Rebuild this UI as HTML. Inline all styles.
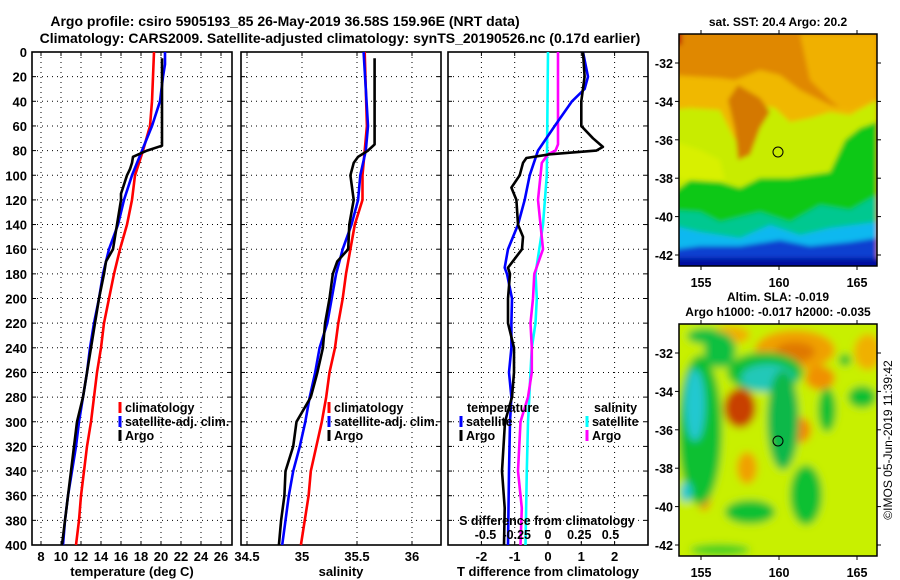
<!DOCTYPE html>
<html><head><meta charset="utf-8">
<style>
html,body{margin:0;padding:0;background:#fff;}
svg{display:block;font-family:"Liberation Sans",sans-serif;font-weight:bold;}
</style></head>
<body>
<svg id="fig" width="900" height="580" viewBox="0 0 900 580" xmlns="http://www.w3.org/2000/svg">
<defs>
<filter id="blur3" x="-20%" y="-20%" width="140%" height="140%"><feGaussianBlur stdDeviation="2.5"/></filter>
<filter id="blur6" x="-30%" y="-30%" width="160%" height="160%"><feGaussianBlur stdDeviation="4"/></filter>
<clipPath id="clipTop"><rect x="679" y="34" width="198" height="232"/></clipPath>
<clipPath id="clipBot"><rect x="679" y="324" width="198" height="232"/></clipPath>
</defs>
<text x="285" y="26" font-size="14" text-anchor="middle">Argo profile: csiro 5905193_85 26-May-2019 36.58S 159.96E (NRT data)</text>
<text x="340" y="43" font-size="14" text-anchor="middle">Climatology: CARS2009. Satellite-adjusted climatology: synTS_20190526.nc (0.17d earlier)</text>
<g id="plots"></g>

<!-- Top map: SST -->
<g>
<text x="778" y="26" font-size="12" text-anchor="middle">sat. SST: 20.4 Argo: 20.2</text>
<g clip-path="url(#clipTop)" filter="url(#blur3)">
<rect x="670" y="25" width="220" height="250" fill="#e08800"/>
<rect x="670" y="25" width="12" height="20" fill="#c02000"/>
<polygon points="800,34 877,34 877,100 850,115 830,100 810,80" fill="#f0b000"/>
<polygon points="670,75 720,78 735,80 760,70 780,75 800,90 830,105 850,110 877,100 877,275 670,275" fill="#f0b800"/>
<polygon points="670,110 690,108 720,110 735,140 748,125 755,112 760,105 775,108 790,122 810,118 830,112 850,115 877,100 877,275 670,275" fill="#c8ec00"/>
<polygon points="738,85 760,98 770,112 760,128 750,155 738,160 735,130 728,100" fill="#d47800"/>
<polygon points="670,140 700,150 720,160 725,180 700,185 670,175" fill="#d8f000"/>
<polygon points="670,195 690,180 720,182 740,188 760,178 790,178 810,175 830,172 845,140 860,128 877,122 877,275 670,275" fill="#10c818"/>
<polygon points="670,210 700,212 720,222 760,212 790,222 820,205 850,210 877,195 877,275 670,275" fill="#00c890"/>
<polygon points="670,225 700,232 740,238 770,225 800,235 830,228 877,222 877,275 670,275" fill="#10b8f0"/>
<polygon points="670,250 700,246 740,246 780,240 810,246 850,242 877,238 877,275 670,275" fill="#0840d0"/>
<rect x="670" y="258" width="220" height="20" fill="#0010a0"/>
</g>
<rect x="679" y="34" width="198" height="232" fill="none" stroke="#000" stroke-width="1.5"/>
<circle cx="778" cy="152" r="5" fill="none" stroke="#000" stroke-width="1"/>
<g id="mapTopAxes"></g>
</g>

<!-- Bottom map: SLA -->
<g>
<text x="778" y="301" font-size="12" text-anchor="middle">Altim. SLA: -0.019</text>
<text x="778" y="316" font-size="12" text-anchor="middle">Argo h1000: -0.017 h2000: -0.035</text>
<g clip-path="url(#clipBot)" filter="url(#blur6)">
<rect x="670" y="315" width="220" height="250" fill="#c8f000"/>
<ellipse cx="795" cy="350" rx="40" ry="20" fill="#f0a000"/>
<ellipse cx="795" cy="352" rx="20" ry="10" fill="#e07800"/>
<ellipse cx="820" cy="378" rx="15" ry="12" fill="#f09000"/>
<ellipse cx="868" cy="352" rx="14" ry="18" fill="#f0b000"/>
<ellipse cx="730" cy="335" rx="20" ry="9" fill="#f0b000"/>
<ellipse cx="740" cy="408" rx="16" ry="20" fill="#c84000"/>
<ellipse cx="800" cy="430" rx="11" ry="13" fill="#f08800"/>
<ellipse cx="747" cy="468" rx="10" ry="16" fill="#f0a000"/>
<ellipse cx="704" cy="495" rx="7" ry="16" fill="#f09000"/>
<ellipse cx="700" cy="430" rx="22" ry="75" fill="#10c030"/>
<ellipse cx="695" cy="405" rx="10" ry="36" fill="#20c8d0"/>
<ellipse cx="686" cy="492" rx="6" ry="10" fill="#20c8d0"/>
<ellipse cx="765" cy="372" rx="38" ry="20" fill="#10c030"/>
<ellipse cx="768" cy="378" rx="27" ry="14" fill="#20c8b8"/>
<ellipse cx="783" cy="420" rx="16" ry="50" fill="#10b848"/>
<ellipse cx="720" cy="350" rx="16" ry="18" fill="#10c040"/>
<ellipse cx="705" cy="336" rx="18" ry="8" fill="#10c040"/>
<ellipse cx="750" cy="512" rx="25" ry="12" fill="#10c030"/>
<ellipse cx="806" cy="495" rx="16" ry="30" fill="#10c030"/>
<ellipse cx="862" cy="397" rx="14" ry="11" fill="#10c030"/>
<ellipse cx="827" cy="410" rx="9" ry="22" fill="#10c030"/>
<ellipse cx="845" cy="360" rx="6" ry="6" fill="#10c030"/>
<ellipse cx="720" cy="550" rx="30" ry="6" fill="#40d020"/>
</g>
<rect x="679" y="324" width="198" height="232" fill="none" stroke="#000" stroke-width="1.5"/>
<circle cx="778" cy="441" r="5" fill="none" stroke="#000" stroke-width="1"/>
<g id="mapBotAxes"></g>
</g>
<text transform="translate(892,440) rotate(-90)" font-size="12" font-weight="normal" text-anchor="middle">©IMOS 05-Jun-2019 11:39:42</text>
</svg>
<script>
// ---- Temperature profiles (deg C) ----
const tClimDepth = [0,20,40,60,80,100,120,140,160,180,200,220,240,260,280,300,320,340,360,380,400];
const tClimVal   = [19.3,19.2,19.1,18.9,18.2,17.4,17.1,16.6,15.9,15.3,14.8,14.3,14.0,13.6,13.3,13.0,12.6,12.3,12.0,11.8,11.5];
const tSatDepth  = [0,10,20,40,60,80,100,120,140,160,180,200,220,240,260,280,300,320,340,360,380,400];
const tSatVal    = [20.4,20.4,20.2,19.9,19.1,18.1,17.1,16.3,15.7,14.8,14.2,13.8,13.3,12.9,12.6,12.2,11.8,11.5,11.1,10.7,10.4,10.2];
const tArgoDepth = [5,76,80,85,90,95,100,110,115,120,140,160,170,180,200,220,240,260,280,300,320,340,360,380,400];
const tArgoVal   = [20.1,20.1,18.6,17.2,17.1,16.9,16.6,16.2,16.0,16.0,15.6,15.2,14.5,14.3,13.8,13.4,13.0,12.6,12.2,11.6,11.3,11.0,10.7,10.4,10.1];
// ---- Salinity profiles ----
const sClimDepth = [0,60,80,100,120,140,160,180,200,220,240,260,280,300,340,360,400];
const sClimVal   = [35.57,35.59,35.57,35.55,35.55,35.48,35.44,35.40,35.37,35.33,35.30,35.25,35.22,35.18,35.08,35.06,34.99];
const sSatDepth  = [0,60,80,100,120,140,160,180,200,220,240,260,280,300,320,340,360,380,400];
const sSatVal    = [35.56,35.60,35.58,35.53,35.51,35.45,35.37,35.31,35.27,35.23,35.16,35.12,35.07,35.03,34.98,34.92,34.88,34.85,34.82];
const sArgoDepth = [5,75,80,85,90,100,120,140,160,170,180,200,220,240,260,280,300,320,340,360,380,400];
const sArgoVal   = [35.66,35.66,35.60,35.51,35.47,35.44,35.47,35.43,35.42,35.32,35.28,35.25,35.21,35.19,35.14,35.08,34.95,34.92,34.85,34.84,34.81,34.79];
// ---- Differences from climatology ----
const dTSatDepth = [0,20,30,40,60,80,100,120,140,160,175,180,200,220,240,260,280,300,340,400];
const dTSatVal   = [1.05,1.2,1.1,0.72,0.2,-0.3,-0.55,-0.7,-0.9,-1.2,-1.3,-1.23,-1.08,-1.1,-1.1,-1.17,-1.1,-1.14,-1.17,-1.2];
const dTArgoDepth= [0,20,40,60,70,77,80,83,86,90,100,110,120,140,150,160,175,180,200,220,240,260,280,300,340,370,400];
const dTArgoVal  = [1.05,1.1,1.0,1.0,1.35,1.65,1.45,0.05,-0.65,-0.75,-0.85,-1.1,-0.95,-0.9,-0.75,-0.78,-1.2,-1.14,-1.2,-1.2,-1.02,-1.02,-1.08,-1.29,-1.38,-1.3,-1.32];
const dSSatDepth = [0,100,140,180,200,220,240,260,280,300,340,400];
const dSSatVal   = [0.0,-0.01,-0.04,-0.1,-0.09,-0.1,-0.13,-0.14,-0.15,-0.16,-0.17,-0.18];
const dSArgoDepth= [0,75,80,83,90,120,140,160,180,200,220,240,260,280,300,340,370,400];
const dSArgoVal  = [0.08,0.08,0.06,0.0,-0.05,-0.08,-0.06,-0.04,-0.11,-0.12,-0.14,-0.13,-0.13,-0.16,-0.22,-0.24,-0.21,-0.22];
// ---- Tick labels ----
const depthTicks = [0,20,40,60,80,100,120,140,160,180,200,220,240,260,280,300,320,340,360,380,400];
const tempTicks  = [8,10,12,14,16,18,20,22,24,26];
const salTicks   = [34.5,35,35.5,36];
const dTTicks    = [-2,-1,0,1,2];
const dSTicks    = [-0.5,-0.25,0,0.25,0.5];
const latTicks   = [-32,-34,-36,-38,-40,-42];
const lonTicks   = [155,160,165];

const NS = "http://www.w3.org/2000/svg";
const Y0 = 52, Y1 = 545;
const yD = d => Y0 + d*(Y1-Y0)/400;
const xT = t => 32 + (t-7.1)*10;
const xS = s => 302 + (s-35)*110;
const xDT = v => 548 + v*33.3;
const xDS = v => 548 + v*125;
const root = document.getElementById('plots');

function mk(tag, attrs, parent){
  const e = document.createElementNS(NS, tag);
  for (const k in attrs) e.setAttribute(k, attrs[k]);
  (parent||root).appendChild(e);
  return e;
}
function txt(x,y,s,size,anchor,parent){
  const e = mk('text',{x:x,y:y,'font-size':size,'text-anchor':anchor||'middle'},parent);
  e.textContent = s;
  return e;
}

function panel(name, x0, x1, gridXs, xf, xtickVals, xlabels, xlabelTitle, depthLabels){
  const g = mk('g',{});
  
  
  depthTicks.forEach(d=>{
    if(d===0||d===400) return;
    const l = mk('line',{x1:x0,x2:x1,y1:yD(d),y2:yD(d),stroke:'#000','stroke-width':1,'stroke-dasharray':'1,4'},g);
    
    
    mk('line',{x1:x0,x2:x0+4,y1:yD(d),y2:yD(d),stroke:'#000','stroke-width':1},g);
    mk('line',{x1:x1-4,x2:x1,y1:yD(d),y2:yD(d),stroke:'#000','stroke-width':1},g);
  });
  gridXs.forEach(v=>{
    const x = xf(v);
    const l = mk('line',{x1:x,x2:x,y1:Y0,y2:Y1,stroke:'#000','stroke-width':1,'stroke-dasharray':'1,4'},g);
    
    
    mk('line',{x1:x,x2:x,y1:Y0,y2:Y0+4,stroke:'#000','stroke-width':1},g);
    mk('line',{x1:x,x2:x,y1:Y1-4,y2:Y1,stroke:'#000','stroke-width':1},g);
  });
  const fr = mk('rect',{x:x0,y:Y0,width:x1-x0,height:Y1-Y0,fill:'none',stroke:'#000','stroke-width':1.6},g);
  
  
  if (xlabels){
    xtickVals.forEach((v,i)=>{
      const t = txt(xf(v), 561, xlabels[i], 13, 'middle', g);
      
      
    });
  }
  if (xlabelTitle){
    const t = txt((x0+x1)/2, 576, xlabelTitle, 13, 'middle', g);
    
    
  }
  if (depthLabels){
    depthTicks.forEach(d=>{
      const t = txt(27, yD(d)+5, String(d), 13, 'end', g);
      
      
    });
  }
  return g;
}

function series(g, depths, vals, xf, color, name){
  const pts = depths.map((d,i)=> xf(vals[i]).toFixed(1)+','+yD(d).toFixed(1)).join(' ');
  const p = mk('polyline',{points:pts,fill:'none',stroke:color,'stroke-width':2.6,'stroke-linejoin':'round'},g);
  
  
}
function legend(g, x, y, color, label, name){
  const l = mk('line',{x1:x,x2:x,y1:y-10,y2:y+1,stroke:color,'stroke-width':3},g);
  
  
  const t = txt(x+5, y, label, 12.5, 'start', g);
  
  
}

const g1 = panel('temperature-panel', 32, 232, [8,10,12,14,16,18,20,22,24,26], xT, tempTicks, tempTicks.map(String), 'temperature (deg C)', true);
series(g1, tClimDepth, tClimVal, xT, '#ff0000', 'temp-climatology-line');
series(g1, tSatDepth, tSatVal, xT, '#0000ff', 'temp-satellite-line');
series(g1, tArgoDepth, tArgoVal, xT, '#000000', 'temp-argo-line');
legend(g1, 120, 412, '#ff0000', 'climatology', 'legend-climatology');
legend(g1, 120, 426, '#0000ff', 'satellite-adj. clim.', 'legend-satellite-adj');
legend(g1, 120, 440, '#000000', 'Argo', 'legend-argo');

const g2 = panel('salinity-panel', 241, 441, [34.5,35,35.5,36], xS, salTicks, ['34.5','35','35.5','36'], 'salinity', false);
series(g2, sClimDepth, sClimVal, xS, '#ff0000', 'sal-climatology-line');
series(g2, sSatDepth, sSatVal, xS, '#0000ff', 'sal-satellite-line');
series(g2, sArgoDepth, sArgoVal, xS, '#000000', 'sal-argo-line');
legend(g2, 329, 412, '#ff0000', 'climatology', 'legend-sal-climatology');
legend(g2, 329, 426, '#0000ff', 'satellite-adj. clim.', 'legend-sal-satellite-adj');
legend(g2, 329, 440, '#000000', 'Argo', 'legend-sal-argo');

const g3 = panel('difference-panel', 448, 648, [-2,-1,0,1,2], xDT, dTTicks, dTTicks.map(String), 'T difference from climatology', false);
series(g3, dSSatDepth, dSSatVal, xDS, '#00ffff', 'sal-diff-satellite-line');
series(g3, dSArgoDepth, dSArgoVal, xDS, '#ff00ff', 'sal-diff-argo-line');
series(g3, dTSatDepth, dTSatVal, xDT, '#0000ff', 'temp-diff-satellite-line');
series(g3, dTArgoDepth, dTArgoVal, xDT, '#000000', 'temp-diff-argo-line');
(function(){
  let t = txt(467, 412, 'temperature', 12.5, 'start', g3);
  
  
  t = txt(594, 412, 'salinity', 12.5, 'start', g3);
  
  
})();
legend(g3, 461, 426, '#0000ff', 'satellite', 'legend-temp-satellite');
legend(g3, 461, 440, '#000000', 'Argo', 'legend-temp-argo');
legend(g3, 587, 426, '#00ffff', 'satellite', 'legend-sal-satellite');
legend(g3, 587, 440, '#ff00ff', 'Argo', 'legend-sal-argo');
(function(){
  let t = txt(547, 525, 'S difference from climatology', 12.5, 'middle', g3);
  
  
  dSTicks.forEach(v=>{
    const s = txt(xDS(v), 539, String(v), 12.5, 'middle', g3);
    
    
  });
})();

function mapAxes(id, top){
  const g = document.getElementById(id);
  const yLat = lat => top + 29 + (-32 - lat)*19.2;
  const xLon = lon => 701 + (lon-155)*15.6;
  latTicks.forEach(lat=>{
    const y = yLat(lat);
    mk('line',{x1:675,x2:679,y1:y,y2:y,stroke:'#000'},g);
    mk('line',{x1:877,x2:881,y1:y,y2:y,stroke:'#000'},g);
    const t = txt(673, y+5, String(lat), 12.5, 'end', g);
    
    
  });
  lonTicks.forEach(lon=>{
    const x = xLon(lon);
    mk('line',{x1:x,x2:x,y1:top-4,y2:top,stroke:'#000'},g);
    mk('line',{x1:x,x2:x,y1:top+232,y2:top+236,stroke:'#000'},g);
    const t = txt(x, top+253, String(lon), 12.5, 'middle', g);
    
    
  });
}
mapAxes('mapTopAxes', 34);
mapAxes('mapBotAxes', 324);
</script>
</body></html>
